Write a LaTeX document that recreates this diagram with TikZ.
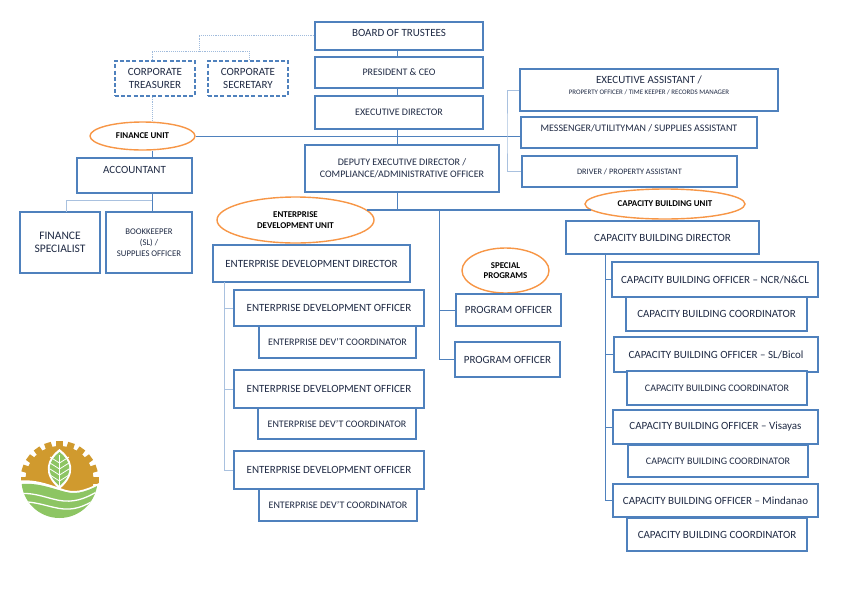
\documentclass[tikz,border=0pt]{standalone}
\usepackage{fontspec}
\setmainfont{Carlito}
\definecolor{boxblue}{HTML}{4F81BD}
\definecolor{paleblue}{HTML}{A9C1DF}
\definecolor{unitorange}{HTML}{F79646}
\definecolor{inkdark}{HTML}{1F2A44}
\definecolor{geargold}{HTML}{D09A2E}
\definecolor{leafgreen}{HTML}{8DC563}
\tikzset{
  orgbox/.style={draw=boxblue,line width=1.5pt,fill=white,inner sep=0pt,align=center,text=inkdark,font=\fontsize{11}{13}\selectfont},
  midbox/.style={orgbox,font=\fontsize{10}{12}\selectfont},
  dashbox/.style={orgbox,dash pattern=on 4pt off 2.2pt},
  smallbox/.style={orgbox,font=\fontsize{8.3}{11}\selectfont},
  unit/.style={ellipse,draw=unitorange,line width=1.4pt,fill=white,inner sep=0pt,align=center,text=black,font=\fontsize{8.9}{11}\selectfont\bfseries},
  link/.style={draw=boxblue,line width=0.9pt},
  palelink/.style={draw=paleblue,line width=1pt},
  mainlink/.style={draw=boxblue,line width=1.7pt},
  dotlink/.style={draw=paleblue!90!boxblue,line width=0.9pt,densely dotted}
}
\usetikzlibrary{shapes.geometric}
\begin{document}
\begin{tikzpicture}[x=1pt,y=-1pt]
  \useasboundingbox (0,0) rectangle (842,595);

  % Top of the chart
  \node[orgbox,minimum width=168pt,minimum height=28pt,text depth=6pt] (board) at (399,36) {BOARD OF TRUSTEES};
  \node[midbox,minimum width=168pt,minimum height=31pt] (ceo) at (399,72.5) {PRESIDENT \& CEO};
  \node[midbox,minimum width=168pt,minimum height=33pt] (execdir) at (399,112.5) {EXECUTIVE DIRECTOR};
  \node[midbox,minimum width=194pt,minimum height=47pt] (deputy) at (402,168.5) {DEPUTY EXECUTIVE DIRECTOR /\\COMPLIANCE/ADMINISTRATIVE OFFICER};

  % Staff on the right
  \node[orgbox,minimum width=258pt,minimum height=42pt,text height=10pt] (assistant) at (649,90) {EXECUTIVE ASSISTANT /\\[-2pt]{\fontsize{6.9}{7}\selectfont PROPERTY OFFICER / TIME KEEPER / RECORDS MANAGER}};
  \node[midbox,minimum width=236pt,minimum height=31pt,text depth=9pt] (messenger) at (639,132.5) {MESSENGER/UTILITYMAN / SUPPLIES ASSISTANT};
  \node[smallbox,minimum width=215pt,minimum height=31pt] (driver) at (629.5,171.5) {DRIVER / PROPERTY ASSISTANT};

  % Finance
  \node[dashbox,minimum width=80pt,minimum height=35pt] (treasurer) at (155,78.5) {CORPORATE\\TREASURER};
  \node[dashbox,minimum width=80pt,minimum height=35pt] (secretary) at (248,78.5) {CORPORATE\\SECRETARY};
  \node[unit,minimum width=105pt,minimum height=28pt] (finunit) at (142.5,136) {FINANCE UNIT};
  \node[orgbox,minimum width=115pt,minimum height=35pt,text depth=11pt] (accountant) at (134.5,175.5) {ACCOUNTANT};
  \node[orgbox,minimum width=80pt,minimum height=61pt,font=\fontsize{11.5}{13}\selectfont] (specialist) at (60,242.5) {FINANCE\\SPECIALIST};
  \node[smallbox,minimum width=86pt,minimum height=61pt,font=\fontsize{8.7}{11}\selectfont] (bookkeeper) at (149,242.5) {BOOKKEEPER\\(SL) /\\SUPPLIES OFFICER};

  % Enterprise development
  \node[unit,minimum width=157pt,minimum height=46pt] (edunit) at (295.5,220) {ENTERPRISE\\DEVELOPMENT UNIT};
  \node[orgbox,minimum width=197pt,minimum height=37pt] (eddir) at (311.5,263.5) {ENTERPRISE DEVELOPMENT DIRECTOR};
  \node[orgbox,minimum width=190pt,minimum height=36pt] (edoa) at (329,308) {ENTERPRISE DEVELOPMENT OFFICER};
  \node[midbox,minimum width=157pt,minimum height=32pt] (edca) at (337.5,342) {ENTERPRISE DEV'T COORDINATOR};
  \node[orgbox,minimum width=190pt,minimum height=38pt] (edob) at (329,389) {ENTERPRISE DEVELOPMENT OFFICER};
  \node[midbox,minimum width=158pt,minimum height=31pt] (edcb) at (337,423.5) {ENTERPRISE DEV'T COORDINATOR};
  \node[orgbox,minimum width=190pt,minimum height=38pt] (edoc) at (329,470) {ENTERPRISE DEVELOPMENT OFFICER};
  \node[midbox,minimum width=158pt,minimum height=32pt] (edcc) at (338,505) {ENTERPRISE DEV'T COORDINATOR};

  % Special programs
  \node[unit,minimum width=87pt,minimum height=45pt,font=\fontsize{8.9}{10}\selectfont\bfseries] (special) at (505.5,270.5) {SPECIAL\\PROGRAMS};
  \node[orgbox,minimum width=105pt,minimum height=32pt] (proga) at (508.5,310) {PROGRAM OFFICER};
  \node[orgbox,minimum width=105pt,minimum height=35pt] (progb) at (507.5,359.5) {PROGRAM OFFICER};

  % Capacity building
  \node[unit,minimum width=160pt,minimum height=30pt] (cbunit) at (665,204) {CAPACITY BUILDING UNIT};
  \node[orgbox,minimum width=193pt,minimum height=33pt] (cbdir) at (662.5,237.5) {CAPACITY BUILDING DIRECTOR};
  \node[orgbox,minimum width=206pt,minimum height=35pt] (cboa) at (715,279.5) {CAPACITY BUILDING OFFICER -- NCR/N\&CL};
  \node[orgbox,minimum width=181pt,minimum height=34pt] (cbca) at (716.5,314) {CAPACITY BUILDING COORDINATOR};
  \node[orgbox,minimum width=204pt,minimum height=35pt] (cbob) at (716,354.5) {CAPACITY BUILDING OFFICER -- SL/Bicol};
  \node[midbox,minimum width=180pt,minimum height=34pt] (cbcb) at (717,388) {CAPACITY BUILDING COORDINATOR};
  \node[orgbox,minimum width=205pt,minimum height=34pt] (cboc) at (715.5,427) {CAPACITY BUILDING OFFICER -- Visayas};
  \node[midbox,minimum width=180pt,minimum height=32pt] (cbcc) at (718,461) {CAPACITY BUILDING COORDINATOR};
  \node[orgbox,minimum width=205pt,minimum height=33pt] (cbod) at (715.5,500.5) {CAPACITY BUILDING OFFICER -- Mindanao};
  \node[orgbox,minimum width=180pt,minimum height=33pt] (cbcd) at (717,534.5) {CAPACITY BUILDING COORDINATOR};

  % Free ends of the connectors
  \coordinate (hub) at (397.5,210);
  \coordinate (dotsplit) at (199,51);
  \coordinate (staffline) at (507,136);
  \coordinate (edline) at (224,282);
  \coordinate (progline) at (439,210);
  \coordinate (cbline) at (605,254);

  % Main line
  \foreach \a/\b in {board/ceo,ceo/execdir,execdir/deputy}
    \draw[mainlink] (\a.south -| hub) -- (\b.north -| hub);
  \draw[mainlink] (deputy.south -| hub) -- (hub);
  \draw[mainlink] (edunit.8 |- hub) -- (cbunit.185 |- hub);
  \draw[link] (finunit.east) -- (messenger.west |- finunit.east);
  \draw[palelink] (assistant.west) -| (staffline) |- (driver.west);

  % Finance
  \draw[dotlink] (board.west |- 0,35) -| (dotsplit);
  \draw[dotlink] (treasurer.north -| 152,0) |- (dotsplit) -| (secretary.north -| 249,0);
  \draw[dotlink] (treasurer.south -| 152,0) -- (finunit.north -| 152,0);
  \draw[link] (finunit.south -| 152,0) -- (accountant.north -| 152,0);
  \draw[link] (accountant.south -| 152,0) -- (bookkeeper.north -| 152,0);
  \draw[palelink] (152,200) -| (66,212);

  % Branches
  \foreach \n in {edoa,edob,edoc}
    \draw[palelink] (edline) |- (\n.west);
  \draw[link] (progline) |- (progb.west);
  \draw[link] (progline |- proga.west) -- (proga.west);
  \foreach \n in {cboa,cbob,cboc,cbod}
    \draw[link] (cbline) |- (\n.west);

  % Logo
  \fill[geargold] (59.5,480) circle (34);
  \foreach \t in {0,-18,...,-180}
    \fill[geargold,rotate around={\t:(59.5,480)}] (20.5,476.5) rectangle (30,483.5);
  \fill[white] (15,481) .. controls (35,478) and (50,485) .. (66,490) .. controls (78,493) and (88,489) .. (105,480) -- (105,525) -- (15,525) -- cycle;
  \begin{scope}
    \clip (59.5,480) circle (38);
    \fill[leafgreen] (15,485) .. controls (35,481) and (50,488) .. (66,492) .. controls (78,495) and (88,491) .. (105,482) -- (105,525) -- (15,525) -- cycle;
    \draw[white,line width=1.3pt] (15,494) .. controls (35,491) and (50,500) .. (64,501) .. controls (78,502) and (88,497) .. (100,490);
    \draw[white,line width=1.3pt] (15,502) .. controls (35,500) and (50,508) .. (64,509) .. controls (78,510) and (88,504) .. (100,497);
  \end{scope}
  \fill[white] (59.5,449) .. controls (72,458) and (78,474) .. (59.5,489) .. controls (41,474) and (47,458) .. (59.5,449) -- cycle;
  \fill[leafgreen] (59.5,452) .. controls (70,460) and (75,473) .. (59.5,486) .. controls (44,473) and (49,460) .. (59.5,452) -- cycle;
  \draw[white,line width=0.8pt] (59.5,455) -- (59.5,486);
  \foreach \h in {462,468,474,480}
    \draw[white,line width=0.8pt] (50,\h-5) -- (59.5,\h+1) -- (69,\h-5);
\end{tikzpicture}
\end{document}
